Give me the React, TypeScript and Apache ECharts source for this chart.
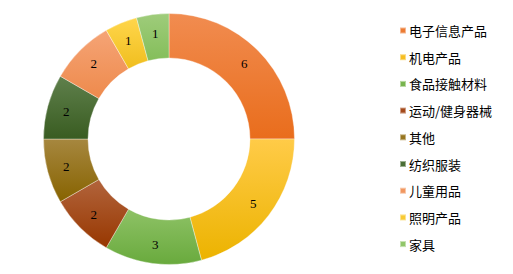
import React, { useEffect, useRef } from "react";
import * as echarts from "echarts";

const categories = ["电子信息产品", "机电产品", "食品接触材料", "运动/健身器械", "其他", "纺织服装", "儿童用品", "照明产品", "家具"];
const values = [6, 5, 3, 2, 2, 2, 2, 1, 1];
const topColors = ["#F18C50", "#FFCB48", "#8EC266", "#B2643C", "#A6873F", "#5F804C", "#F5A476", "#FFD64C", "#9FCC7B"];
const bottomColors = ["#E96D1C", "#ECB300", "#69AA3D", "#973700", "#876300", "#395C21", "#EE8A4C", "#F0BE1E", "#84BE5A"];
const legendColors = ["#EC7B33", "#F6BE22", "#78B44E", "#A44A1C", "#977620", "#4A6E36", "#F19760", "#F8CA34", "#91C66A"];

export default function App() {
  const ref = useRef<HTMLDivElement>(null);
  useEffect(() => {
    if (!ref.current) return;
    const chart = echarts.init(ref.current, null, { renderer: "svg" });
    const data = categories.map((name, i) => ({
      name,
      value: values[i],
      itemStyle: {
        color: new echarts.graphic.LinearGradient(0, 0, 0, 1, [
          { offset: 0, color: topColors[i] },
          { offset: 1, color: bottomColors[i] },
        ]),
      },
    }));
    chart.setOption({
      animation: false,
      color: legendColors,
      legend: {
        orient: "vertical",
        left: 394,
        top: 19,
        itemWidth: 6,
        itemHeight: 6,
        itemGap: 13.7,
        icon: "rect",
        data: categories.map((name, i) => ({ name, itemStyle: { color: legendColors[i] } })),
        textStyle: {
          fontFamily: "Noto Sans CJK SC",
          fontSize: 13,
          lineHeight: 13,
          color: "#000",
          padding: [0, 0, 0, -2],
        },
      },
      series: [
        {
          type: "pie",
          center: [169, 139],
          radius: [81, 125.5],
          startAngle: 90,
          clockwise: true,
          avoidLabelOverlap: false,
          itemStyle: { borderColor: "rgba(255,255,255,0.45)", borderWidth: 0.8 },
          label: {
            show: true,
            position: "inside",
            formatter: "{c}",
            fontFamily: "Liberation Serif",
            fontSize: 13,
            color: "#000",
          },
          labelLine: { show: false },
          emphasis: { disabled: true },
          data,
        },
      ],
    });
    return () => chart.dispose();
  }, []);
  return <div ref={ref} style={{ position: "fixed", left: 0, top: 0, width: 513, height: 274, background: "#fff" }} />;
}
